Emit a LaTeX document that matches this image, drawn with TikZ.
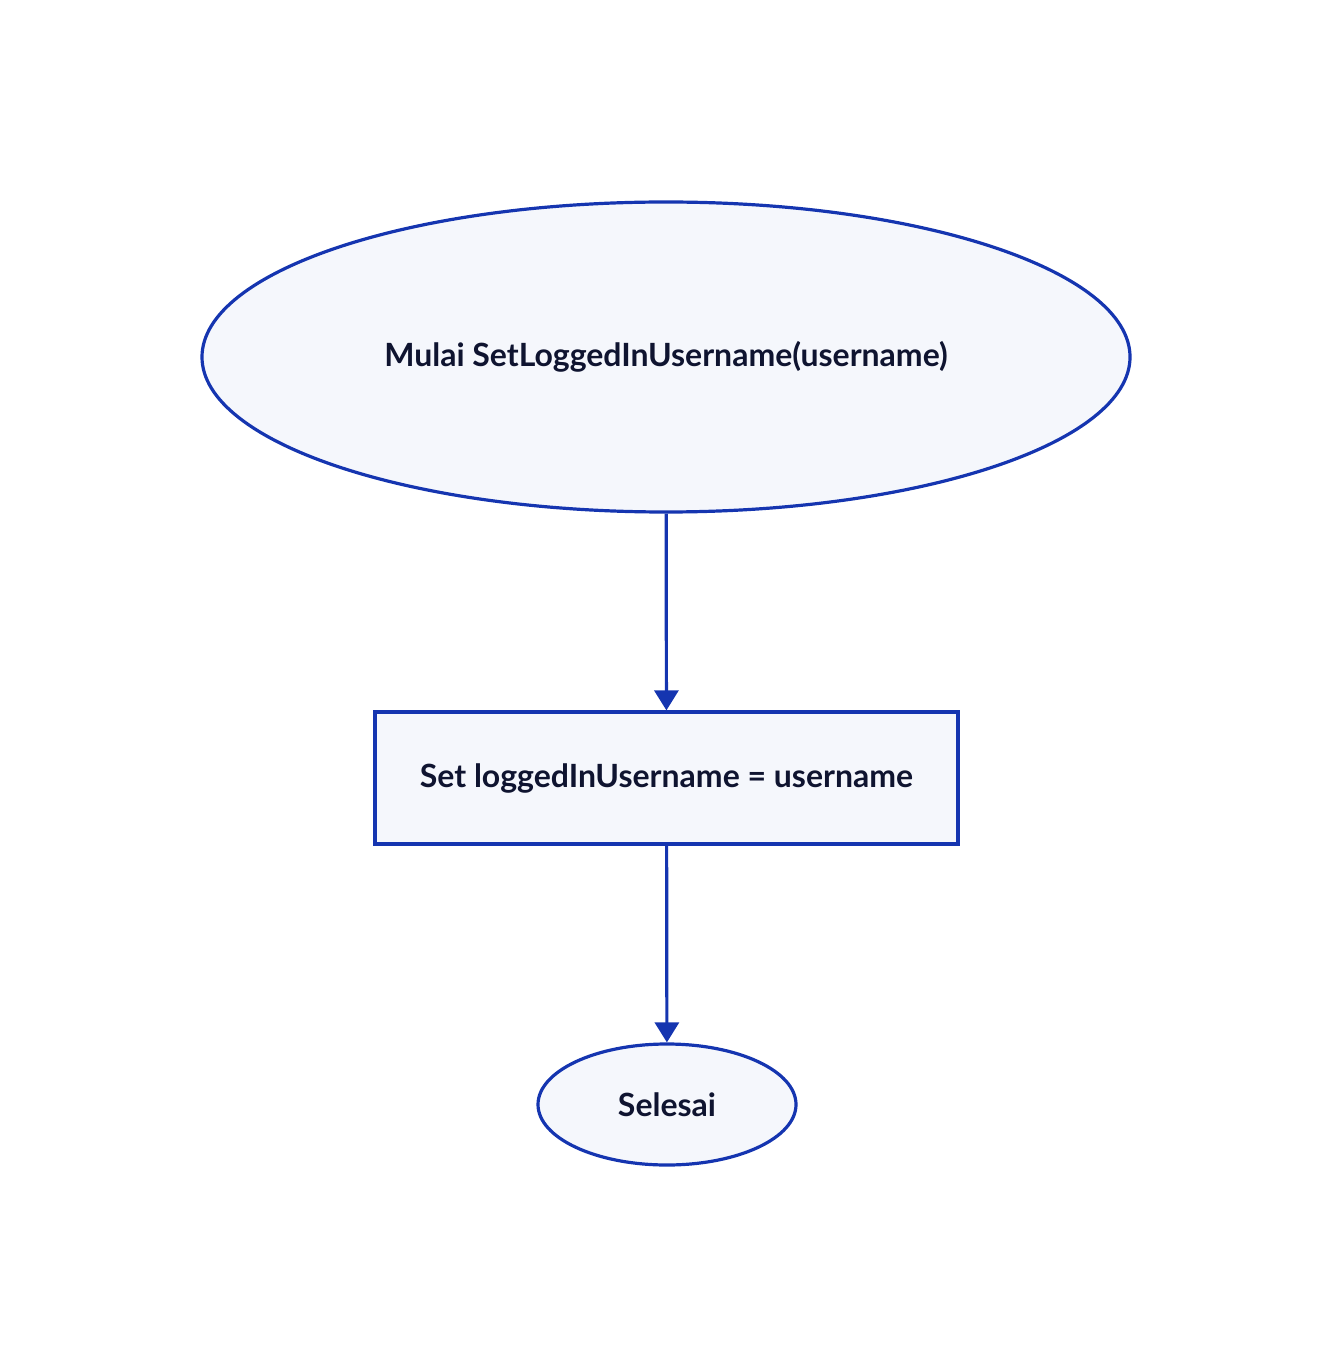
\documentclass[tikz,border=0pt]{standalone}
\usepackage{fontspec}
\setmainfont{Lato}
\usetikzlibrary{arrows.meta,shapes.geometric}
\definecolor{edgeblue}{HTML}{1535B0}
\definecolor{paleblue}{HTML}{F5F7FC}
\definecolor{inkblue}{HTML}{0F1430}
\begin{document}
\begin{tikzpicture}[x=0.5pt, y=-0.5pt,
	every node/.style={font=\fontsize{16}{19}\selectfont\bfseries, text=inkblue},
	terminal/.style={ellipse, draw=edgeblue, fill=paleblue, line width=1.6pt, inner sep=0pt},
	process/.style={rectangle, draw=edgeblue, fill=paleblue, line width=1.6pt, inner sep=0pt, minimum width=291.5pt, minimum height=66pt},
	flow/.style={-{Triangle[length=10pt, width=12pt]}, draw=edgeblue, line width=1.6pt}]
	\useasboundingbox (0,0) rectangle (1332,1368);
	\node[terminal, minimum width=464pt, minimum height=155pt] (start) at (666,357) {Mulai SetLoggedInUsername(username)};
	\node[process] (assign) at (666.5,778) {Set loggedInUsername = username};
	\node[terminal, minimum width=129pt, minimum height=60.5pt] (stop) at (667,1104.5) {Selesai};
	\draw[flow] (start) -- (assign);
	\draw[flow] (assign) -- (stop);
\end{tikzpicture}
\end{document}
